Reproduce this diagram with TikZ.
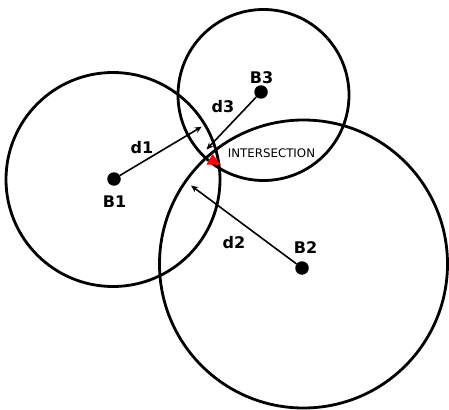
\documentclass[tikz,border=0pt]{standalone}
\usepackage{fontspec}
\setmainfont{DejaVu Sans}
\usetikzlibrary{arrows.meta}
\begin{document}
\begin{tikzpicture}[x=1pt,y=-1pt,
  ring/.style={line width=2.8pt},
  dot/.style={circle,fill=black,inner sep=0pt,minimum size=13.5pt},
  arr/.style={line width=1.6pt,-{Stealth[length=7pt,width=6pt]}},
  lbl/.style={font=\fontsize{16}{18}\selectfont\bfseries,inner sep=0pt},
  small/.style={font=\fontsize{11.8}{14}\selectfont,inner sep=0pt}]
\useasboundingbox (0,0) rectangle (449,409);
% beacons
\node[dot] (B1) at (114,179) {};
\node[dot] (B2) at (302,268) {};
\node[dot] (B3) at (261,92) {};
% range circles
\draw[ring] (113,179.5) circle[radius=107pt];
\draw[ring] (263.5,95) circle[radius=85.5pt];
\draw[ring] (303.5,264) circle[radius=144pt];
% distance vectors
\coordinate (t1) at (201.7,126.7);
\coordinate (t2) at (191,185.5);
\coordinate (t3) at (206.5,149.5);
\draw[arr] (B1) -- (t1);
\draw[arr] (B2) -- (t2);
\draw[arr] (B3) -- (t3);
% estimated position
\fill[red] (212.5,154) -- (206.5,164.5) -- (220.5,164.5) -- cycle;
% labels
\node[lbl] (lB1) at (114.5,201.5) {B1};
\node[lbl] (lB2) at (305.5,248) {B2};
\node[lbl] (lB3) at (261.5,77.5) {B3};
\node[lbl] (ld1) at (142,148) {d1};
\node[lbl] (ld2) at (234,243) {d2};
\node[lbl] (ld3) at (223,107) {d3};
\node[small] (lint) at (271.5,153) {INTERSECTION};
\end{tikzpicture}
\end{document}
